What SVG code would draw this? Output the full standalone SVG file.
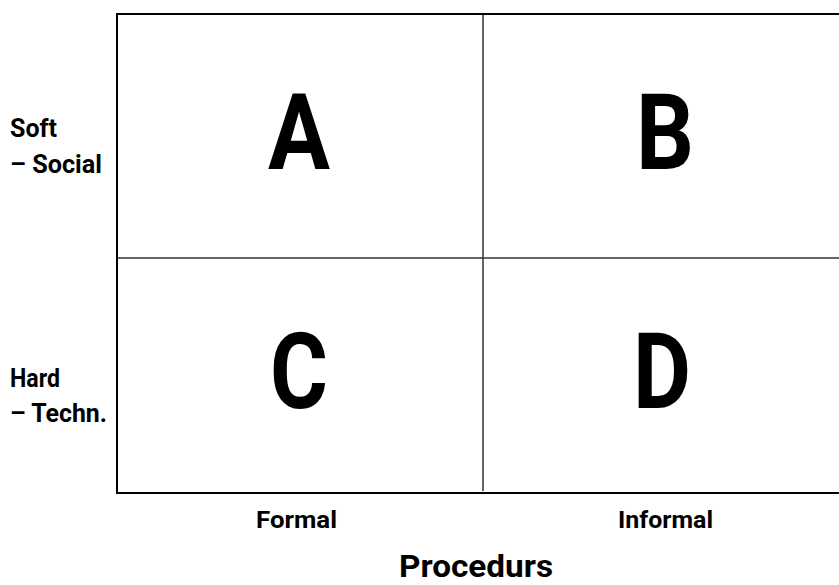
<svg xmlns="http://www.w3.org/2000/svg" width="839" height="585" viewBox="0 0 839 585">
<style>
.t{font-family:Roboto,"Liberation Sans",sans-serif;font-weight:bold;fill:#000}
.big{font-size:105px}
.lab{font-size:26px}
.ax{font-size:24px}
.ttl{font-size:32px}
.ln{stroke:#000;stroke-width:2;fill:none}
.thin{stroke:#333;stroke-width:1.5;fill:none}
</style>
<rect width="839" height="585" fill="#fff"/>
<g id="frame">
<polyline class="ln" points="840,14 117,14 117,493 840,493"/>
</g>
<g id="connectors">
<line class="thin" x1="483" y1="15" x2="483" y2="491"/>
<line class="thin" x1="118" y1="258" x2="839" y2="258"/>
</g>
<g id="A"><text class="t big" x="299" y="169" text-anchor="middle" textLength="62" lengthAdjust="spacingAndGlyphs">A</text></g>
<g id="B"><text class="t big" x="665" y="169" text-anchor="middle" textLength="58" lengthAdjust="spacingAndGlyphs">B</text></g>
<g id="C"><text class="t big" x="299" y="408" text-anchor="middle" textLength="58" lengthAdjust="spacingAndGlyphs">C</text></g>
<g id="D"><text class="t big" x="662" y="408" text-anchor="middle" textLength="58" lengthAdjust="spacingAndGlyphs">D</text></g>
<g id="soft">
<text class="t lab" x="10" y="137" textLength="47" lengthAdjust="spacingAndGlyphs">Soft</text>
<text class="t lab" x="10" y="173" textLength="92" lengthAdjust="spacingAndGlyphs">– Social</text>
</g>
<g id="hard">
<text class="t lab" x="10" y="387" textLength="50" lengthAdjust="spacingAndGlyphs">Hard</text>
<text class="t lab" x="10" y="422" textLength="97" lengthAdjust="spacingAndGlyphs">– Techn.</text>
</g>
<g id="formal"><text class="t ax" x="256" y="528" textLength="81" lengthAdjust="spacingAndGlyphs">Formal</text></g>
<g id="informal"><text class="t ax" x="618" y="528" textLength="95" lengthAdjust="spacingAndGlyphs">Informal</text></g>
<g id="procedurs"><text class="t ttl" x="399" y="577" textLength="154" lengthAdjust="spacingAndGlyphs">Procedurs</text></g>
</svg>
